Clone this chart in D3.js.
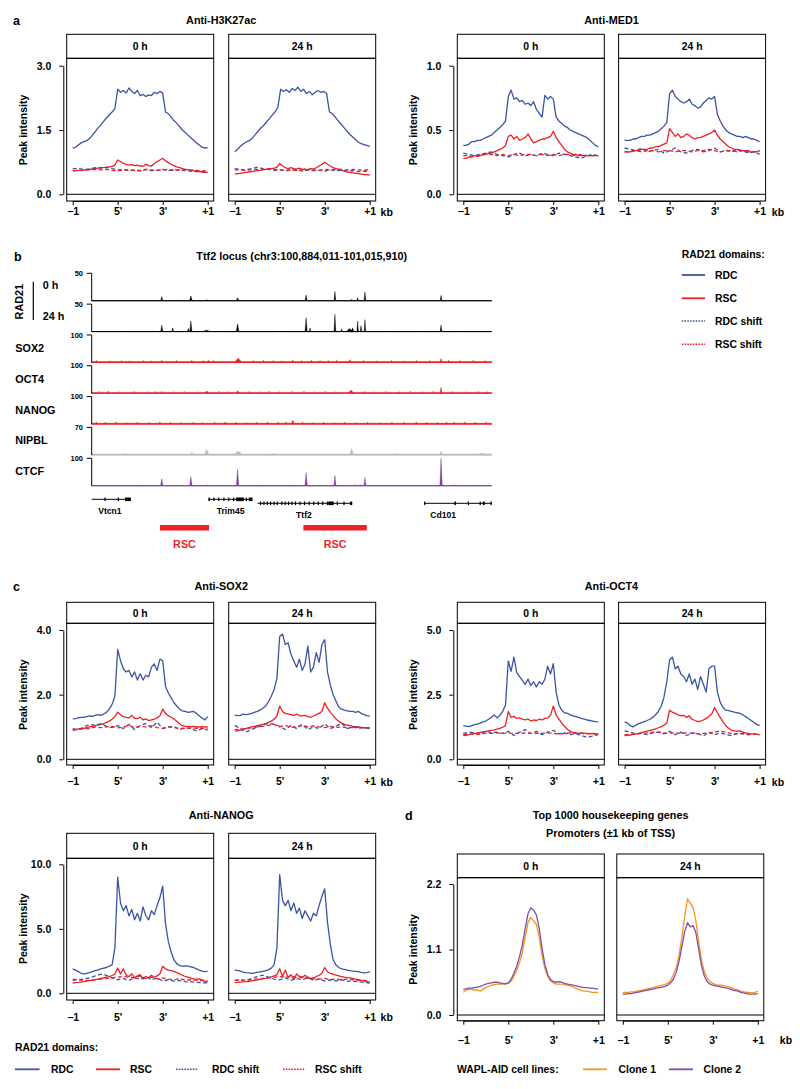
<!DOCTYPE html>
<html><head><meta charset="utf-8">
<script src="https://cdn.jsdelivr.net/npm/d3@7/dist/d3.min.js"></script>
<style>body{margin:0;background:#fff}</style>
</head><body>
<svg id="fig" width="800" height="1089"></svg>
<script>
// ================= DATA =================
const xTickLabels = ["\u22121", "5'", "3'", "+1"];
const facetLabels = ["0 h", "24 h"];
const seriesNames = ["RDC", "RSC", "RDC shift", "RSC shift"];
const cloneNames = ["Clone 1", "Clone 2"];

// Anti-H3K27ac
const h3k27acTicks = [0, 1.5, 3.0];
const h3k27ac_RDC_0h = [1.07,1.10,1.15,1.20,1.23,1.25,1.30,1.38,1.46,1.55,1.62,1.70,1.78,1.85,1.92,2.00,2.45,2.38,2.42,2.36,2.48,2.40,2.35,2.42,2.30,2.33,2.28,2.32,2.30,2.38,2.35,2.40,2.36,1.92,1.88,1.80,1.72,1.66,1.58,1.50,1.44,1.38,1.32,1.26,1.20,1.15,1.10,1.08,1.09];
const h3k27ac_RSC_0h = [0.55,0.55,0.56,0.56,0.57,0.57,0.58,0.59,0.60,0.61,0.62,0.62,0.63,0.64,0.65,0.68,0.80,0.76,0.72,0.70,0.68,0.69,0.67,0.68,0.66,0.65,0.70,0.67,0.66,0.72,0.76,0.80,0.84,0.78,0.74,0.70,0.67,0.64,0.62,0.60,0.58,0.57,0.56,0.55,0.54,0.53,0.52,0.51,0.51];
const h3k27ac_RDCs_0h = [0.60,0.60,0.58,0.59,0.62,0.61,0.63,0.60,0.57,0.58,0.55,0.57,0.54,0.58,0.55,0.56,0.58,0.55,0.57,0.56,0.55,0.54,0.53,0.53,0.52];
const h3k27ac_RSCs_0h = [0.55,0.55,0.56,0.57,0.58,0.57,0.58,0.56,0.55,0.56,0.57,0.55,0.56,0.58,0.57,0.56,0.57,0.58,0.56,0.57,0.58,0.57,0.56,0.55,0.54];
const h3k27ac_RDC_24h = [0.99,1.05,1.12,1.18,1.22,1.25,1.30,1.38,1.46,1.54,1.60,1.68,1.76,1.84,1.92,2.02,2.45,2.40,2.44,2.38,2.47,2.42,2.50,2.40,2.45,2.35,2.40,2.32,2.38,2.42,2.38,2.40,2.35,1.92,1.88,1.80,1.72,1.64,1.56,1.48,1.40,1.34,1.28,1.22,1.18,1.16,1.14,1.12];
const h3k27ac_RSC_24h = [0.47,0.48,0.49,0.50,0.51,0.52,0.53,0.54,0.55,0.56,0.57,0.58,0.59,0.60,0.61,0.63,0.72,0.66,0.62,0.60,0.62,0.60,0.59,0.61,0.58,0.59,0.57,0.60,0.59,0.62,0.66,0.70,0.75,0.70,0.66,0.62,0.60,0.58,0.56,0.54,0.52,0.51,0.50,0.49,0.48,0.47,0.46,0.46,0.45];
const h3k27ac_RDCs_24h = [0.60,0.58,0.57,0.60,0.63,0.60,0.58,0.56,0.57,0.55,0.56,0.58,0.54,0.57,0.55,0.56,0.54,0.57,0.55,0.56,0.54,0.55,0.53,0.54,0.53];
const h3k27ac_RSCs_24h = [0.57,0.57,0.56,0.57,0.58,0.58,0.59,0.58,0.57,0.56,0.57,0.56,0.57,0.58,0.57,0.56,0.58,0.57,0.59,0.58,0.57,0.58,0.57,0.56,0.58];

// Anti-MED1
const med1Ticks = [0, 0.5, 1.0];
const med1_RDC_0h = [0.38,0.38,0.39,0.41,0.41,0.42,0.42,0.43,0.44,0.45,0.46,0.48,0.50,0.52,0.54,0.57,0.76,0.81,0.74,0.75,0.72,0.73,0.70,0.71,0.69,0.72,0.66,0.63,0.60,0.77,0.74,0.76,0.74,0.60,0.57,0.55,0.53,0.52,0.50,0.49,0.48,0.47,0.46,0.45,0.44,0.42,0.40,0.38,0.37];
const med1_RSC_0h = [0.28,0.28,0.29,0.29,0.30,0.30,0.30,0.31,0.31,0.32,0.32,0.33,0.34,0.35,0.36,0.38,0.45,0.46,0.43,0.45,0.42,0.43,0.44,0.47,0.43,0.40,0.41,0.42,0.43,0.43,0.44,0.45,0.49,0.44,0.41,0.38,0.35,0.33,0.32,0.31,0.31,0.30,0.30,0.30,0.30,0.30,0.30,0.30,0.30];
const med1_RDCs_0h = [0.32,0.31,0.30,0.31,0.32,0.33,0.31,0.30,0.29,0.31,0.32,0.30,0.31,0.30,0.32,0.31,0.30,0.32,0.31,0.30,0.29,0.28,0.30,0.31,0.30];
const med1_RSCs_0h = [0.30,0.30,0.29,0.30,0.31,0.31,0.30,0.31,0.30,0.31,0.30,0.31,0.31,0.30,0.31,0.30,0.31,0.30,0.31,0.31,0.30,0.31,0.30,0.30,0.30];
const med1_RDC_24h = [0.42,0.42,0.42,0.43,0.43,0.44,0.45,0.45,0.46,0.46,0.47,0.48,0.49,0.51,0.53,0.56,0.78,0.81,0.76,0.74,0.72,0.71,0.72,0.74,0.70,0.69,0.67,0.68,0.71,0.73,0.75,0.74,0.76,0.62,0.57,0.53,0.50,0.48,0.47,0.46,0.45,0.45,0.44,0.45,0.44,0.43,0.43,0.42,0.41];
const med1_RSC_24h = [0.33,0.33,0.33,0.34,0.34,0.34,0.35,0.35,0.35,0.36,0.36,0.37,0.37,0.38,0.39,0.40,0.51,0.48,0.45,0.47,0.44,0.45,0.47,0.46,0.44,0.43,0.44,0.44,0.45,0.46,0.47,0.48,0.50,0.46,0.43,0.41,0.39,0.37,0.36,0.35,0.35,0.34,0.34,0.34,0.33,0.33,0.33,0.33,0.34];
const med1_RDCs_24h = [0.36,0.35,0.34,0.36,0.33,0.34,0.35,0.32,0.34,0.36,0.33,0.32,0.34,0.35,0.33,0.34,0.36,0.33,0.34,0.33,0.35,0.34,0.32,0.33,0.31];
const med1_RSCs_24h = [0.33,0.33,0.34,0.33,0.34,0.34,0.33,0.34,0.34,0.33,0.34,0.34,0.33,0.34,0.34,0.35,0.34,0.33,0.34,0.34,0.33,0.34,0.34,0.33,0.34];

// Anti-SOX2
const sox2Ticks = [0, 2.0, 4.0];
const sox2_RDC_0h = [1.25,1.26,1.28,1.30,1.30,1.32,1.34,1.33,1.36,1.38,1.36,1.40,1.45,1.55,1.70,1.95,3.40,3.05,2.80,2.70,2.75,2.55,2.70,2.45,2.65,2.45,2.60,2.55,2.85,2.95,2.75,3.10,3.05,2.25,2.05,1.90,1.75,1.65,1.55,1.50,1.48,1.45,1.47,1.48,1.42,1.35,1.28,1.22,1.32];
const sox2_RSC_0h = [0.92,0.92,0.94,0.95,0.96,0.98,1.00,1.02,1.04,1.06,1.08,1.10,1.14,1.18,1.24,1.32,1.46,1.38,1.32,1.30,1.28,1.36,1.27,1.26,1.30,1.22,1.25,1.20,1.22,1.24,1.28,1.35,1.55,1.42,1.35,1.30,1.25,1.18,1.10,1.04,1.02,1.02,1.01,1.02,1.00,1.00,1.01,1.00,1.00];
const sox2_RDCs_0h = [0.95,0.92,1.00,1.08,1.05,1.10,1.02,0.98,1.04,0.95,1.08,0.92,1.05,1.10,0.98,1.15,0.95,1.00,1.02,0.92,0.98,0.95,0.88,0.95,0.90];
const sox2_RSCs_0h = [0.90,0.92,0.95,0.95,1.00,0.98,1.00,1.02,0.97,1.00,1.05,0.98,1.02,1.00,1.04,0.98,0.96,1.00,0.98,0.95,0.96,0.97,0.96,0.96,0.95];
const sox2_RDC_24h = [1.37,1.35,1.36,1.40,1.38,1.40,1.42,1.45,1.48,1.52,1.58,1.65,1.78,1.95,2.15,2.50,3.80,3.88,3.55,3.60,3.25,3.05,2.85,3.10,2.75,2.95,3.50,2.70,2.85,3.30,3.00,3.55,3.70,2.70,2.30,2.00,1.80,1.62,1.55,1.52,1.50,1.48,1.48,1.45,1.48,1.42,1.38,1.35,1.33];
const sox2_RSC_24h = [0.88,0.88,0.90,0.92,0.95,0.98,1.00,1.02,1.04,1.06,1.08,1.10,1.14,1.18,1.24,1.34,1.65,1.48,1.42,1.40,1.38,1.36,1.40,1.35,1.34,1.36,1.32,1.30,1.34,1.38,1.42,1.48,1.75,1.58,1.45,1.35,1.25,1.18,1.12,1.08,1.06,1.04,1.02,1.01,1.00,0.99,0.98,0.98,0.97];
const sox2_RDCs_24h = [1.05,0.95,0.85,0.92,1.00,1.05,1.12,1.08,1.02,0.92,1.05,0.95,1.08,0.92,1.00,0.95,1.10,0.95,1.02,1.12,0.95,1.00,0.96,0.98,0.95];
const sox2_RSCs_24h = [0.92,0.93,0.95,0.97,1.00,1.02,1.05,1.08,1.00,1.05,0.98,1.02,1.05,1.00,1.03,1.00,0.98,1.02,0.99,1.00,0.98,0.98,0.99,0.97,0.97];

// Anti-OCT4
const oct4Ticks = [0, 2.5, 5.0];
const oct4_RDC_0h = [1.30,1.28,1.26,1.30,1.34,1.36,1.40,1.45,1.48,1.55,1.62,1.72,1.60,1.70,1.85,2.10,3.80,3.40,3.95,3.35,3.20,3.05,2.90,3.10,2.85,3.00,2.80,3.00,2.90,3.10,3.60,3.30,3.70,2.60,2.10,1.90,1.80,1.78,1.72,1.68,1.65,1.62,1.58,1.55,1.52,1.50,1.48,1.46,1.45];
const oct4_RSC_0h = [0.92,0.93,0.95,0.98,1.00,1.02,1.04,1.06,1.08,1.10,1.12,1.14,1.17,1.20,1.24,1.30,1.85,1.62,1.66,1.58,1.60,1.55,1.52,1.56,1.48,1.52,1.50,1.55,1.52,1.58,1.60,1.70,2.05,1.72,1.55,1.40,1.28,1.16,1.08,1.04,1.02,1.00,1.02,1.01,1.00,0.99,1.00,0.98,0.98];
const oct4_RDCs_0h = [1.00,1.05,1.02,0.95,1.10,1.02,1.05,1.00,1.08,0.92,1.05,1.15,1.00,1.08,0.95,1.05,1.12,0.98,1.02,0.95,1.00,0.92,0.85,0.90,0.95];
const oct4_RSCs_0h = [0.95,0.98,0.96,0.98,1.00,1.00,1.02,1.00,1.02,1.00,1.00,1.02,1.00,1.01,1.00,1.02,1.00,0.98,1.00,1.02,1.00,1.00,0.98,0.98,0.97];
const oct4_RDC_24h = [1.45,1.40,1.30,1.25,1.32,1.38,1.42,1.46,1.50,1.55,1.62,1.72,1.85,2.05,2.40,3.00,3.85,3.95,3.50,3.60,3.30,3.20,3.00,3.30,2.90,3.10,2.70,3.20,2.90,2.60,3.50,3.60,3.60,2.60,2.20,2.00,1.90,1.88,1.85,1.82,1.80,1.78,1.72,1.65,1.58,1.50,1.42,1.35,1.30];
const oct4_RSC_24h = [0.92,0.93,0.94,0.96,0.98,1.00,1.03,1.06,1.09,1.12,1.15,1.18,1.22,1.26,1.32,1.40,1.90,1.82,1.78,1.72,1.68,1.70,1.62,1.68,1.55,1.50,1.46,1.48,1.52,1.58,1.66,1.75,2.00,1.80,1.62,1.45,1.30,1.20,1.12,1.10,1.08,1.10,1.05,1.02,1.00,0.98,0.97,0.96,0.95];
const oct4_RDCs_24h = [1.10,1.05,0.98,1.00,0.95,1.02,1.05,0.98,1.08,0.95,1.05,0.92,1.02,1.00,0.90,1.05,0.95,1.02,0.96,0.92,1.00,0.98,0.95,0.98,0.95];
const oct4_RSCs_24h = [0.95,0.96,0.98,1.00,1.02,1.05,1.05,1.02,1.00,1.03,1.00,1.02,1.00,0.98,1.00,1.02,1.05,1.10,1.05,1.00,0.98,1.00,0.98,0.97,0.96];

// Anti-NANOG
const nanogTicks = [0, 5.0, 10.0];
const nanog_RDC_0h = [1.90,1.80,1.68,1.55,1.50,1.55,1.60,1.68,1.75,1.82,1.90,1.95,2.00,2.10,2.20,3.50,9.00,7.00,6.40,6.80,6.00,6.50,5.70,6.20,5.60,6.70,6.00,5.70,6.40,6.10,6.80,7.40,8.30,5.40,4.00,3.20,2.60,2.30,2.15,2.10,2.12,2.10,2.05,2.00,1.90,1.80,1.72,1.68,1.70];
const nanog_RSC_0h = [0.80,0.82,0.84,0.87,0.90,0.94,0.98,1.02,1.06,1.10,1.15,1.20,1.25,1.30,1.38,1.50,1.95,1.50,1.90,1.40,1.30,1.50,1.20,1.35,1.45,1.10,1.30,1.20,1.40,1.25,1.35,1.50,2.10,1.90,1.80,1.75,1.70,1.60,1.50,1.40,1.30,1.25,1.18,1.12,1.10,1.12,1.05,0.95,0.88];
const nanog_RDCs_0h = [1.00,1.05,1.10,1.20,1.35,1.48,1.40,1.20,1.05,1.15,1.00,1.20,1.10,1.30,1.05,1.20,0.95,1.05,0.95,1.00,0.90,0.88,0.85,0.82,0.80];
const nanog_RSCs_0h = [1.10,1.05,1.00,1.02,1.05,1.10,1.15,1.20,1.25,1.30,1.25,1.20,1.35,1.15,1.25,1.10,1.20,1.10,1.05,1.15,1.00,1.05,1.00,0.98,0.95];
const nanog_RDC_24h = [1.80,1.78,1.72,1.65,1.60,1.58,1.55,1.58,1.62,1.66,1.70,1.75,1.82,1.95,2.20,3.50,9.20,7.20,6.80,7.20,6.40,7.00,6.20,6.60,5.80,6.40,6.00,5.60,6.20,6.00,6.80,7.50,8.10,5.50,3.80,2.60,2.20,2.00,1.90,1.85,1.80,1.75,1.72,1.70,1.68,1.62,1.58,1.60,1.68];
const nanog_RSC_24h = [0.82,0.84,0.86,0.88,0.90,0.93,0.96,1.00,1.04,1.08,1.12,1.16,1.22,1.28,1.35,1.45,1.90,1.30,1.80,1.20,1.45,1.10,1.50,1.30,1.20,1.40,1.25,1.15,1.10,1.30,1.40,1.55,2.00,1.65,1.55,1.48,1.40,1.35,1.30,1.25,1.22,1.20,1.15,1.10,1.05,1.00,0.95,0.90,0.85];
const nanog_RDCs_24h = [1.00,1.05,1.00,1.15,1.30,1.40,1.25,1.10,1.05,1.20,1.00,1.15,1.05,1.20,1.00,1.10,0.95,1.05,0.95,1.05,0.92,0.95,0.90,0.85,0.80];
const nanog_RSCs_24h = [1.00,1.02,1.00,1.05,1.10,1.15,1.20,1.25,1.30,1.25,1.35,1.20,1.30,1.15,1.20,1.10,1.15,1.05,1.10,1.05,1.10,1.05,1.00,1.00,0.95];

// Housekeeping promoters
const hkTicks = [0, 1.1, 2.2];
const hk_clone1_0h = [0.38,0.42,0.43,0.43,0.42,0.42,0.40,0.43,0.46,0.48,0.50,0.51,0.52,0.52,0.52,0.53,0.53,0.57,0.65,0.75,0.88,1.05,1.30,1.55,1.64,1.58,1.52,1.30,1.00,0.78,0.65,0.57,0.54,0.52,0.52,0.52,0.51,0.50,0.49,0.47,0.45,0.43,0.41,0.40,0.40,0.39,0.38,0.38,0.38];
const hk_clone2_0h = [0.43,0.44,0.45,0.45,0.46,0.47,0.48,0.50,0.52,0.53,0.54,0.55,0.55,0.54,0.53,0.52,0.54,0.60,0.70,0.82,0.98,1.18,1.45,1.70,1.80,1.76,1.68,1.45,1.12,0.85,0.68,0.60,0.56,0.55,0.56,0.55,0.53,0.52,0.51,0.50,0.49,0.48,0.47,0.46,0.46,0.45,0.45,0.44,0.44];
const hk_clone1_24h = [0.38,0.38,0.38,0.39,0.39,0.40,0.41,0.42,0.43,0.44,0.45,0.46,0.48,0.49,0.50,0.51,0.53,0.58,0.68,0.80,1.00,1.30,1.65,1.95,1.88,1.80,1.58,1.22,0.92,0.72,0.62,0.56,0.53,0.51,0.50,0.50,0.49,0.48,0.47,0.45,0.43,0.42,0.40,0.39,0.38,0.38,0.37,0.38,0.40];
const hk_clone2_24h = [0.35,0.35,0.36,0.36,0.37,0.38,0.39,0.40,0.41,0.42,0.43,0.44,0.45,0.46,0.47,0.48,0.50,0.54,0.60,0.72,0.90,1.15,1.40,1.55,1.48,1.50,1.38,1.10,0.82,0.65,0.56,0.52,0.50,0.49,0.48,0.47,0.46,0.45,0.44,0.42,0.41,0.40,0.38,0.37,0.36,0.35,0.35,0.35,0.36];

// Panel b: Ttf2 locus tracks (positions in kb from locus start; [kb, value, widthKb])
const locusChrom = "chr3";
const locusStart = 100884011;
const locusEnd = 101015910;
const trackLabels = ["RAD21 0 h", "RAD21 24 h", "SOX2", "OCT4", "NANOG", "NIPBL", "CTCF"];
const trackMax = [50, 50, 100, 100, 100, 70, 100];
const trackFloor = [0.6, 0.6, 4, 4, 4, 3, 1];
const rad21_0h_peaks = [[23.1,8,0.7],[32.7,9,0.9],[37.9,2,1.5],[48.1,6,0.9],[70.7,11,0.7],[80.2,17,0.6],[85.7,2.5,1.2],[87.7,6,0.6],[90.1,16,0.6],[115.2,10,0.6],[5,1.5,0.4],[12,1.2,0.4],[28,1.5,0.4],[55,1.2,0.4],[62,1.5,0.4],[95,1.2,0.4],[102,1.5,0.4],[125,1.2,0.4]];
const rad21_24h_peaks = [[23.1,12,0.7],[26.7,7,0.6],[31.9,6,0.6],[32.7,19.5,0.7],[37.9,3,2.5],[48.1,14.5,0.9],[70.7,25.5,0.7],[72.0,7,0.5],[80.2,31.5,0.6],[82.4,5,0.6],[85.0,6,2.0],[86.0,7,1.0],[87.7,19.5,0.5],[88.8,11,0.5],[90.1,22,0.5],[115.2,12,0.6],[10,1.2,0.4],[20,1.5,0.4],[42,1.5,0.4],[60,1.5,0.4],[64,1.2,0.4],[98,1.5,0.4],[108,1.2,0.4],[122,1.5,0.4]];
const sox2_peaks = [[48.3,16,2.0],[66.3,10,0.5],[85.2,11,0.6],[115.2,15,0.6],[1.6,8,0.45],[6.0,7,0.45],[9.9,8,0.45],[12.6,7,0.45],[17.0,8,0.45],[19.8,7,0.45],[23.1,9,0.45],[28.0,8,0.45],[33.0,9,0.45],[36.8,8,0.45],[38.5,9,0.45],[40.1,8,0.45],[53.3,8,0.45],[56.6,9,0.45],[59.9,8,0.45],[62.6,7,0.45],[69.2,8,0.45],[72.5,9,0.45],[75.3,8,0.45],[78.0,8,0.45],[80.8,9,0.45],[89.6,8,0.45],[94.0,7,0.45],[98.9,8,0.45],[102.8,7,0.45],[107.1,8,0.45],[111.5,8,0.45],[117.6,9,0.45],[121.4,8,0.45],[125.8,9,0.45],[129.7,8,0.45]];
const oct4_peaks = [[115.2,23,0.6],[85.5,12,1.6],[48.1,9,1.2],[38.0,8,1.5],[23.1,8,0.5],[2.5,8,0.45],[5.5,9,0.45],[9.0,7,0.45],[14.0,8,0.45],[18.5,7,0.45],[21.0,8,0.45],[27.0,7,0.45],[30.5,8,0.45],[35.0,7,0.45],[42.0,8,0.45],[45.0,7,0.45],[52.0,8,0.45],[55.5,7,0.45],[58.5,9,0.45],[62.0,7,0.45],[66.0,8,0.45],[70.0,9,0.45],[73.5,7,0.45],[77.0,8,0.45],[80.5,7,0.45],[90.0,8,0.45],[93.0,7,0.45],[97.0,8,0.45],[101.5,7,0.45],[105.0,8,0.45],[109.0,7,0.45],[112.5,8,0.45],[119.0,8,0.45],[123.5,7,0.45],[127.5,8,0.45],[130.5,7,0.45]];
const nanog_peaks = [[66.3,15,0.8],[119.5,8,0.5],[44.0,7,1.5],[1.5,9,0.45],[4.5,8,0.45],[8.0,9,0.45],[11.5,7,0.45],[15.0,8,0.45],[19.0,7,0.45],[22.5,9,0.45],[26.0,8,0.45],[29.5,7,0.45],[33.5,8,0.45],[36.5,7,0.45],[40.5,8,0.45],[47.5,8,0.45],[51.0,7,0.45],[54.5,8,0.45],[58.0,9,0.45],[61.5,8,0.45],[64.0,9,0.45],[69.5,8,0.45],[73.0,7,0.45],[76.5,8,0.45],[80.0,7,0.45],[83.5,8,0.45],[87.0,7,0.45],[91.0,8,0.45],[95.0,7,0.45],[99.0,8,0.45],[103.0,8,0.45],[107.0,9,0.45],[110.5,8,0.45],[114.0,8,0.45],[117.0,8,0.45],[123.0,9,0.45],[126.5,8,0.45],[130.0,8,0.45]];
const nipbl_peaks = [[33.0,6,1.5],[37.9,14,1.5],[48.3,10,2.5],[85.7,17,1.2],[115.2,10,0.8],[128.6,5,2.5],[11,4,2],[60,4,2],[100,4,2]];
const ctcf_peaks = [[23.1,26,0.8],[32.7,34,0.8],[38.2,4,0.6],[48.1,60,0.8],[70.7,48,0.8],[80.2,38,0.7],[87.0,5,0.5],[88.5,5,0.5],[90.1,30,0.7],[115.2,100,0.8],[119.5,5,0.6],[3,2.5,0.4],[8,2,0.4],[15,3,0.4],[28,2,0.4],[44,2,0.4],[55,2.5,0.4],[60,2,0.4],[65,3,0.4],[76,2,0.4],[95,2.5,0.4],[100,2,0.4],[106,3,0.4],[112,2,0.4],[124,2.5,0.4],[128,2,0.4]];
// genes: spans in kb, display row, label position in kb, exon blocks [start,end] kb
const geneNames = ["Vtcn1", "Trim45", "Ttf2", "Cd101"];
const geneSpans = [[0, 12.9], [38.5, 53.0], [54.7, 85.9], [109.6, 131.9]];
const geneRows = [0, 0, 1, 1];
const geneLabelPos = [6.0, 45.8, 70.0, 115.9];
const geneExons = [
  [[4.2,4.6],[8.6,9.0],[11.0,12.9]],
  [[38.5,39.0],[40.1,40.5],[41.7,42.1],[43.4,43.8],[45.0,45.4],[46.6,47.0],[47.6,50.2],[50.8,51.2],[51.8,53.0]],
  [[55.5,55.8],[56.6,56.9],[57.7,58.0],[58.8,59.1],[59.9,60.2],[61.0,61.3],[62.5,62.8],[63.6,63.9],[64.7,65.0],[65.8,66.1],[67.0,67.3],[68.5,68.8],[70.0,70.3],[71.5,71.8],[73.0,73.3],[74.5,74.8],[76.0,76.3],[77.5,77.8],[78.0,79.8],[80.8,81.1],[83.0,83.3],[85.2,85.9]],
  [[109.6,110.0],[119.6,120.1],[124.0,124.4],[127.9,128.3],[129.0,129.6],[131.5,131.9]]
];
const rscDomains = [[22.5, 38.7], [69.8, 90.7]];

// ================= DRAWING =================
const svg = d3.select("#fig");
const FONT = '"Liberation Sans", Arial, Helvetica, sans-serif';
const BLUE = "#3a55a5", RED = "#ee1f26", ORANGE = "#f7941d", PURPLE = "#7f50a2";
const CTCFC = "#7d3f98", GREY = "#bcbcbc";

function txt(x, y, s, o = {}) {
  return svg.append("text").attr("x", x).attr("y", y).text(s)
    .attr("font-family", FONT).attr("font-size", o.size || 10.4)
    .attr("font-weight", o.weight || "bold").attr("text-anchor", o.anchor || "start")
    .attr("fill", o.fill || "#000");
}
function hline(x1, x2, y, color, w, dash) {
  const l = svg.append("line").attr("x1", x1).attr("x2", x2).attr("y1", y).attr("y2", y)
    .attr("stroke", color).attr("stroke-width", w);
  if (dash) l.attr("stroke-dasharray", dash);
  return l;
}

const domainStyles = [
  { color: BLUE, dash: null }, { color: RED, dash: null },
  { color: BLUE, dash: "4,2.5" }, { color: RED, dash: "4,2.5" }
];
const cloneStyles = [{ color: ORANGE, dash: null }, { color: PURPLE, dash: null }];

function styleAxis(g) {
  g.selectAll("path,line").attr("stroke", "#000").attr("stroke-width", 1);
  g.selectAll("text").attr("font-family", FONT).attr("font-size", 10.5).attr("font-weight", "bold").attr("fill", "#000");
}

function profilePanel(p, g) {
  const yMax = p.ticks[p.ticks.length - 1];
  const y = d3.scaleLinear().domain([0, yMax]).range([g.zeroY, g.topY]);
  const titleX = g.x0 + (2 * g.fw + g.gap) / 2;
  p.title.forEach((t, i) => txt(titleX, g.titleY + i * 18.3, t, { anchor: "middle", size: 10.8 }));
  p.facets.forEach((set, k) => {
    const fx = g.x0 + k * (g.fw + g.gap);
    const x = d3.scaleLinear().domain([0, 3]).range([fx + 6, fx + g.fw - 6]);
    svg.append("rect").attr("x", fx).attr("y", g.stripTop).attr("width", g.fw)
      .attr("height", g.stripBot - g.stripTop).attr("fill", "#fff").attr("stroke", "#000").attr("stroke-width", 1);
    txt(fx + g.fw / 2, (g.stripTop + g.stripBot) / 2 + 3.7, facetLabels[k], { anchor: "middle" });
    svg.append("rect").attr("x", fx).attr("y", g.stripBot).attr("width", g.fw)
      .attr("height", g.panelBot - g.stripBot).attr("fill", "none").attr("stroke", "#000").attr("stroke-width", 1);
    hline(fx, fx + g.fw, y(0), "#000", 1);
    set.forEach((vals, j) => {
      const st = p.styles[j];
      const n = vals.length;
      const line = d3.line().x((d, i) => x(i * 3 / (n - 1))).y(d => y(d));
      const path = svg.append("path").datum(vals).attr("d", line).attr("fill", "none")
        .attr("stroke", st.color).attr("stroke-width", 1.3).attr("stroke-linejoin", "round");
      if (st.dash) path.attr("stroke-dasharray", st.dash);
    });
    const ax = svg.append("g").attr("transform", `translate(0,${g.panelBot})`)
      .call(d3.axisBottom(x).tickValues([0, 1, 2, 3]).tickFormat((d, i) => xTickLabels[i])
        .tickSize(4).tickPadding(g.labelPad).tickSizeOuter(0));
    styleAxis(ax);
  });
  const ay = svg.append("g").attr("transform", `translate(${g.yAxisX},0)`)
    .call(d3.axisLeft(y).tickValues(p.ticks).tickFormat(d3.format(".1f")).tickSize(4).tickPadding(8).tickSizeOuter(0));
  styleAxis(ay);
  const midY = (g.zeroY + g.topY) / 2;
  txt(0, 0, "Peak intensity", { anchor: "middle", size: 10.5 }).attr("transform", `translate(${g.yTitleX},${midY}) rotate(-90)`);
  txt(g.kbX, g.panelBot + 4 + g.labelPad + 7.5, "kb", { anchor: "middle", size: 10.5 });
}

const L = { x0: 66.7, fw: 147, gap: 15, yAxisX: 63.3, yTitleX: 26.5, kbX: 386.7 };
const R = { x0: 457.3, fw: 147, gap: 14.3, yAxisX: 453.3, yTitleX: 416.5, kbX: 778 };
const rowA = { stripTop: 34.3, stripBot: 58.3, panelBot: 201, zeroY: 194.3, topY: 65.7, labelPad: 3, titleY: 24 };
const rowC = { stripTop: 602.3, stripBot: 623.3, panelBot: 765, zeroY: 759.3, topY: 630, labelPad: 9, titleY: 590 };
const rowN = { stripTop: 833.3, stripBot: 858.3, panelBot: 1000, zeroY: 993.3, topY: 864.3, labelPad: 9.5, titleY: 819 };
const rowD = { stripTop: 854, stripBot: 877.7, panelBot: 1020.7, zeroY: 1015, topY: 884, labelPad: 11.5, titleY: 819 };

profilePanel({ title: ["Anti-H3K27ac"], ticks: h3k27acTicks, styles: domainStyles,
  facets: [[h3k27ac_RDC_0h, h3k27ac_RSC_0h, h3k27ac_RDCs_0h, h3k27ac_RSCs_0h],
           [h3k27ac_RDC_24h, h3k27ac_RSC_24h, h3k27ac_RDCs_24h, h3k27ac_RSCs_24h]] }, { ...L, ...rowA });
profilePanel({ title: ["Anti-MED1"], ticks: med1Ticks, styles: domainStyles,
  facets: [[med1_RDC_0h, med1_RSC_0h, med1_RDCs_0h, med1_RSCs_0h],
           [med1_RDC_24h, med1_RSC_24h, med1_RDCs_24h, med1_RSCs_24h]] }, { ...R, ...rowA });
profilePanel({ title: ["Anti-SOX2"], ticks: sox2Ticks, styles: domainStyles,
  facets: [[sox2_RDC_0h, sox2_RSC_0h, sox2_RDCs_0h, sox2_RSCs_0h],
           [sox2_RDC_24h, sox2_RSC_24h, sox2_RDCs_24h, sox2_RSCs_24h]] }, { ...L, ...rowC });
profilePanel({ title: ["Anti-OCT4"], ticks: oct4Ticks, styles: domainStyles,
  facets: [[oct4_RDC_0h, oct4_RSC_0h, oct4_RDCs_0h, oct4_RSCs_0h],
           [oct4_RDC_24h, oct4_RSC_24h, oct4_RDCs_24h, oct4_RSCs_24h]] }, { ...R, ...rowC });
profilePanel({ title: ["Anti-NANOG"], ticks: nanogTicks, styles: domainStyles,
  facets: [[nanog_RDC_0h, nanog_RSC_0h, nanog_RDCs_0h, nanog_RSCs_0h],
           [nanog_RDC_24h, nanog_RSC_24h, nanog_RDCs_24h, nanog_RSCs_24h]] }, { ...L, ...rowN });
profilePanel({ title: ["Top 1000 housekeeping genes", "Promoters (\u00b11 kb of TSS)"], ticks: hkTicks, styles: cloneStyles,
  facets: [[hk_clone1_0h, hk_clone2_0h], [hk_clone1_24h, hk_clone2_24h]] }, { ...R, gap: 12.5, kbX: 786, ...rowD });

// panel letters
txt(13, 25, "a", { size: 12.5 });
txt(14, 261, "b", { size: 12.5 });
txt(13, 591, "c", { size: 12.5 });
txt(405, 820, "d", { size: 12.5 });

// ---------- Panel b ----------
const locusLen = (locusEnd - locusStart) / 1000;
const gx = d3.scaleLinear().domain([0, locusLen]).range([91.7, 491.7]);
const fmt = d3.format(",");
txt(301.7, 260, `Ttf2 locus (${locusChrom}:${fmt(locusStart)}-${fmt(locusEnd)})`, { anchor: "middle", size: 10.8 });
const trackPeaks = [rad21_0h_peaks, rad21_24h_peaks, sox2_peaks, oct4_peaks, nanog_peaks, nipbl_peaks, ctcf_peaks];
const trackColors = ["#000", "#000", RED, RED, RED, GREY, CTCFC];
const T0 = 273.3, TSTEP = 30.83, TH = 27.7;
trackPeaks.forEach((peaks, t) => {
  const top = T0 + t * TSTEP, base = top + TH;
  const y = d3.scaleLinear().domain([0, trackMax[t]]).range([base, top]);
  const fl = trackFloor[t];
  const sorted = peaks.slice().sort((a, b) => a[0] - b[0]);
  const pts = [[0, fl]];
  sorted.forEach(pk => {
    pts.push([pk[0] - pk[2] / 2, fl]);
    pts.push([pk[0], Math.max(fl, pk[1])]);
    pts.push([pk[0] + pk[2] / 2, fl]);
  });
  pts.push([locusLen, fl]);
  const area = d3.area().x(d => gx(d[0])).y0(base).y1(d => y(d[1]));
  svg.append("path").datum(pts).attr("d", area).attr("fill", trackColors[t])
    .attr("stroke", trackColors[t]).attr("stroke-width", 0.4);
  hline(gx(0), gx(locusLen), base - 0.3, trackColors[t], 1);
  svg.append("line").attr("x1", 91.7).attr("x2", 91.7).attr("y1", top).attr("y2", base)
    .attr("stroke", "#000").attr("stroke-width", 1);
  hline(86.7, 91.7, top, "#000", 1);
  txt(83, top + 2.6, String(trackMax[t]), { size: 7.5, anchor: "end" });
  if (t >= 2) txt(15.3, top + 17, trackLabels[t], { size: 10.8 });
});
// RAD21 label group
txt(0, 0, "RAD21", { size: 10.8, anchor: "middle" }).attr("transform", "translate(23,301.7) rotate(-90)");
svg.append("line").attr("x1", 33.3).attr("x2", 33.3).attr("y1", 281.7).attr("y2", 320).attr("stroke", "#000").attr("stroke-width", 1.2);
txt(42.7, 288.6, "0 h", { size: 10.8 });
txt(42.7, 320.2, "24 h", { size: 10.8 });

// genes
const rowY = [499.3, 503.3];
geneNames.forEach((name, i) => {
  const yy = rowY[geneRows[i]];
  hline(gx(geneSpans[i][0]), gx(geneSpans[i][1]), yy, "#000", 1);
  geneExons[i].forEach(ex => {
    const w = Math.max(1.2, gx(ex[1]) - gx(ex[0]));
    svg.append("rect").attr("x", gx(ex[0])).attr("y", yy - 1.8).attr("width", w).attr("height", 3.6).attr("fill", "#000");
  });
  txt(gx(geneLabelPos[i]), yy + 14.5, name, { size: 8.6, anchor: "middle" });
});
// RSC domains
rscDomains.forEach(d => {
  svg.append("rect").attr("x", gx(d[0])).attr("y", 525).attr("width", gx(d[1]) - gx(d[0])).attr("height", 5.5).attr("fill", RED);
  txt((gx(d[0]) + gx(d[1])) / 2, 547.8, "RSC", { fill: RED, anchor: "middle", size: 10.8 });
});

// legend b
txt(681.7, 257.6, "RAD21 domains:");
const legBY = [275, 298.3, 321, 344.3];
seriesNames.forEach((nm, i) => {
  const st = domainStyles[i];
  hline(681.7, 705, legBY[i], st.color, st.dash ? 1.6 : 1.8, st.dash ? "1.6,1.2" : null);
  txt(715, legBY[i] + 3.7, nm);
});

// bottom legends
txt(15, 1050.5, "RAD21 domains:");
const botX = [[15, 39.5, 51], [96, 120, 130], [176, 198, 212], [283, 305, 315]];
seriesNames.forEach((nm, i) => {
  const st = domainStyles[i];
  hline(botX[i][0], botX[i][1], 1069.3, st.color, st.dash ? 1.6 : 1.8, st.dash ? "1.6,1.2" : null);
  txt(botX[i][2], 1073, nm);
});
txt(457, 1073, "WAPL-AID cell lines:");
const cloneX = [[583, 607, 618.5], [669, 693, 703.5]];
cloneNames.forEach((nm, i) => {
  hline(cloneX[i][0], cloneX[i][1], 1069.3, cloneStyles[i].color, 1.8);
  txt(cloneX[i][2], 1073, nm);
});
</script>
</body></html>
